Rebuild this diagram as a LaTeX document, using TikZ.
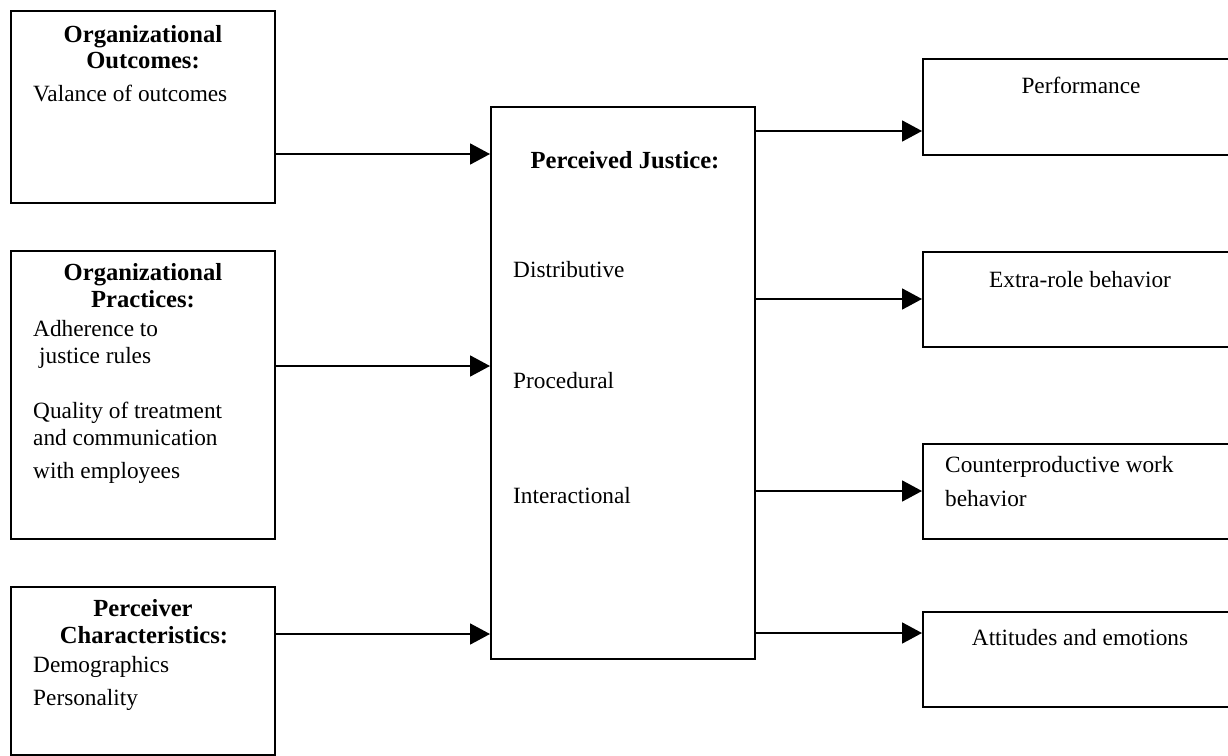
\documentclass[tikz,border=0pt]{standalone}
\usepackage{fontspec}
\setmainfont{Liberation Serif}
\usetikzlibrary{arrows.meta}
\begin{document}
\begin{tikzpicture}[x=1pt,y=-1pt,
  box/.style={draw, line width=1.8pt, anchor=north west, inner sep=0pt},
  txt/.style={inner sep=0pt, font=\fontsize{23.3}{27}\selectfont},
  btxt/.style={inner sep=0pt, font=\fontsize{24.6}{28}\selectfont\bfseries},
  arr/.style={line width=1.8pt, -{Triangle[length=20pt,width=21pt]}}]
\clip (0,0) rectangle (1228,755);
% left boxes
\node[box, minimum width=264pt, minimum height=192pt] (oo) at (10,10) {};
\node[box, minimum width=264pt, minimum height=288pt] (op) at (10,250) {};
\node[box, minimum width=264pt, minimum height=168pt] (pc) at (10,586) {};
% centre box
\node[box, minimum width=264pt, minimum height=552pt] (pj) at (490,106) {};
% right boxes (cut off at the right edge)
\node[box, minimum width=330pt, minimum height=96pt] (perf) at (922,58) {};
\node[box, minimum width=330pt, minimum height=95pt] (extra) at (922,251) {};
\node[box, minimum width=330pt, minimum height=95pt] (cwb) at (922,443) {};
\node[box, minimum width=330pt, minimum height=95pt] (att) at (922,611) {};
% texts
\node[btxt, anchor=base] (t1a) at (143,42) {Organizational};
\node[btxt, anchor=base] (t1b) at (143,68) {Outcomes:};
\node[txt, anchor=base west] (t1c) at (33,101) {Valance of outcomes};
\node[btxt, anchor=base] (t2a) at (143,280) {Organizational};
\node[btxt, anchor=base] (t2b) at (143,307) {Practices:};
\node[txt, anchor=base west] (t2c) at (33,336) {Adherence to};
\node[txt, anchor=base west] (t2d) at (39,363) {justice rules};
\node[txt, anchor=base west] (t2e) at (33,418) {Quality of treatment};
\node[txt, anchor=base west] (t2f) at (33,445) {and communication};
\node[txt, anchor=base west] (t2g) at (33,478) {with employees};
\node[btxt, anchor=base] (t3a) at (143,616) {Perceiver};
\node[btxt, anchor=base] (t3b) at (144,643) {Characteristics:};
\node[txt, anchor=base west] (t3c) at (33,672) {Demographics};
\node[txt, anchor=base west] (t3d) at (33,705) {Personality};
\node[btxt, anchor=base] (pja) at (625,168) {Perceived Justice:};
\node[txt, anchor=base west] (pjb) at (513,277) {Distributive};
\node[txt, anchor=base west] (pjc) at (513,388) {Procedural};
\node[txt, anchor=base west] (pjd) at (513,503) {Interactional};
\node[txt, anchor=base] (r1) at (1081,93) {Performance};
\node[txt, anchor=base] (r2) at (1080,287) {Extra-role behavior};
\node[txt, anchor=base west] (r3a) at (945,472) {Counterproductive work};
\node[txt, anchor=base west] (r3b) at (945,506) {behavior};
\node[txt, anchor=base] (r4) at (1080,645) {Attitudes and emotions};
% connectors
\draw[arr] (oo.east |- 0,154) -- (pj.west |- 0,154);
\draw[arr] (op.east |- 0,366) -- (pj.west |- 0,366);
\draw[arr] (pc.east |- 0,634) -- (pj.west |- 0,634);
\draw[arr] (pj.east |- 0,131) -- (perf.west |- 0,131);
\draw[arr] (pj.east |- 0,299) -- (extra.west |- 0,299);
\draw[arr] (pj.east |- 0,491) -- (cwb.west |- 0,491);
\draw[arr] (pj.east |- 0,633) -- (att.west |- 0,633);
\end{tikzpicture}
\end{document}
